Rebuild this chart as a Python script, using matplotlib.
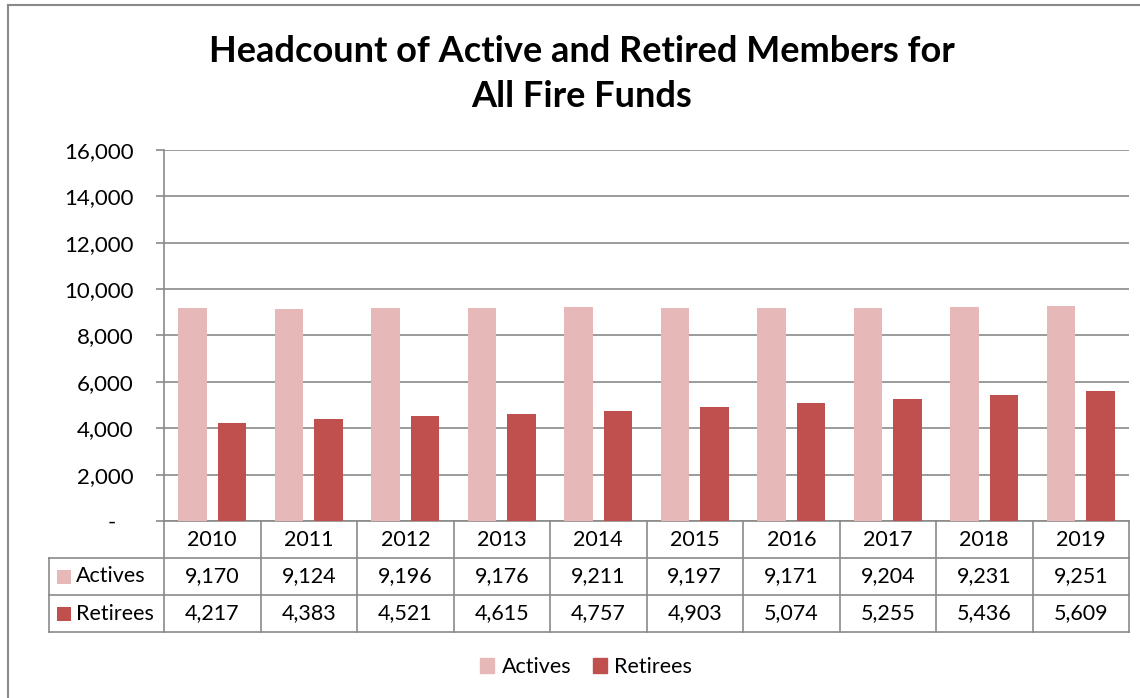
import numpy as np
from matplotlib import pyplot as plt
from matplotlib.lines import Line2D
from matplotlib.patches import Patch
import matplotlib.transforms as mtransforms

plt.rcParams["font.family"] = ["Lato", "DejaVu Sans"]

# data
years = ["2010", "2011", "2012", "2013", "2014", "2015", "2016", "2017", "2018", "2019"]
actives = [9170, 9124, 9196, 9176, 9211, 9197, 9171, 9204, 9231, 9251]
retirees = [4217, 4383, 4521, 4615, 4757, 4903, 5074, 5255, 5436, 5609]
series_names = ["Actives", "Retirees"]
y_ticks = [0, 2000, 4000, 6000, 8000, 10000, 12000, 14000, 16000]

PINK = "#E6B9B8"
RED = "#C0504D"
GRAY = "#8A8A8A"
FS = 15.5

W, H = 1140, 698
fig = plt.figure(figsize=(W / 100, H / 100), dpi=100)
ax = fig.add_axes([164 / W, 1 - 521 / H, 965 / W, 371 / H])

x = np.arange(len(years))
bar_w = 0.295
ax.bar(x - 0.205, actives, bar_w, color=PINK, zorder=3)
ax.bar(x + 0.205, retirees, bar_w, color=RED, zorder=3)

ax.set_xlim(-0.5, len(years) - 0.5)
ax.set_ylim(0, 16000)
ax.set_yticks(y_ticks)
ax.set_yticklabels(["-   " if v == 0 else "{:,}".format(v) for v in y_ticks], fontsize=16)
ax.set_xticks([])
ax.tick_params(axis="y", length=6, width=1.2, color=GRAY, pad=16)
ax.yaxis.grid(True, color=GRAY, lw=1.2)
ax.set_axisbelow(True)
for s in ["top", "right"]:
    ax.spines[s].set_visible(False)
for s in ["left", "bottom"]:
    ax.spines[s].set_color(GRAY)
    ax.spines[s].set_linewidth(1.2)

# data table under the plot
trans = mtransforms.blended_transform_factory(ax.transData, ax.transAxes)
row_h = 37 / 371
px_per_cat = 965 / len(years)
lab_left = -0.5 - (164 - 49) / px_per_cat
right = len(years) - 0.5

def tline(xs, ys):
    ax.add_line(Line2D(xs, ys, transform=trans, color=GRAY, lw=1.2, clip_on=False))

for r in range(1, 4):
    tline([lab_left, right], [-r * row_h, -r * row_h])
for i in range(len(years) + 1):
    tline([i - 0.5, i - 0.5], [0, -3 * row_h])
tline([lab_left, lab_left], [-row_h, -3 * row_h])

for i, yr in enumerate(years):
    ax.text(i, -0.5 * row_h, yr, transform=trans, ha="center", va="center", fontsize=FS)
    ax.text(i, -1.5 * row_h, "{:,}".format(actives[i]), transform=trans, ha="center", va="center", fontsize=FS)
    ax.text(i, -2.5 * row_h, "{:,}".format(retirees[i]), transform=trans, ha="center", va="center", fontsize=FS)

for r, (name, col) in enumerate(zip(series_names, [PINK, RED])):
    yy = -(1.5 + r) * row_h
    ax.plot([-0.5 - (164 - 63.5) / px_per_cat], [yy], marker="s", ms=9.5, color=col,
            transform=trans, clip_on=False, mew=0)
    ax.text(-0.5 - (164 - 76) / px_per_cat, yy, name, transform=trans, ha="left", va="center", fontsize=FS)

# title
fig.text(582 / W, 1 - 74 / H, "Headcount of Active and Retired Members for\nAll Fire Funds",
         ha="center", va="center", fontsize=26, fontweight="bold", linespacing=1.45)

# legend
handles = [Patch(color=PINK), Patch(color=RED)]
fig.legend(handles, series_names, loc="center", bbox_to_anchor=(586 / W, 1 - 667 / H), ncol=2,
           frameon=False, fontsize=FS, handlelength=0.65, handleheight=0.65, handletextpad=0.35,
           columnspacing=1.0)

# chart frame (partly cut off in the original)
fig.add_artist(Line2D([8 / W, 8 / W], [0, 1 - 5 / H], color=GRAY, lw=1.5))
fig.add_artist(Line2D([8 / W, 1], [1 - 5 / H, 1 - 5 / H], color=GRAY, lw=1.5))

fig.savefig("out.png", dpi=100)
